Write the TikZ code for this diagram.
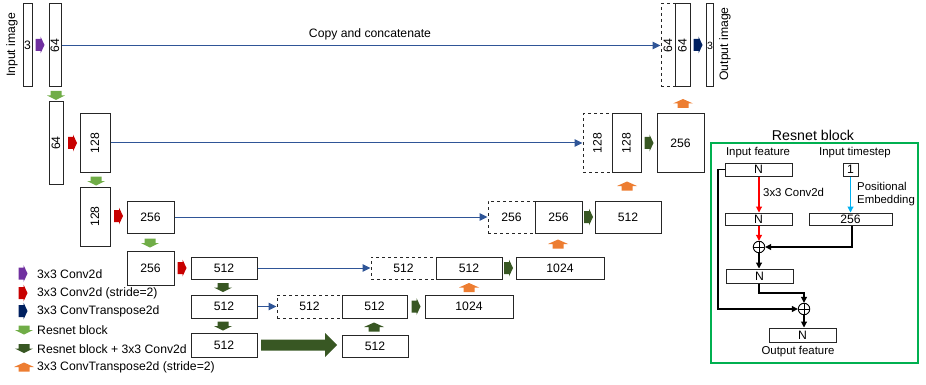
\documentclass[tikz,border=0pt]{standalone}
\usepackage{fontspec}
\setmainfont{Liberation Sans}
\usetikzlibrary{arrows.meta}
\definecolor{cpurple}{RGB}{112,48,160}
\definecolor{cred}{RGB}{200,0,0}
\definecolor{cnavy}{RGB}{0,32,96}
\definecolor{clgreen}{RGB}{112,173,71}
\definecolor{cdgreen}{RGB}{56,87,35}
\definecolor{corange}{RGB}{237,125,49}
\definecolor{cblue}{RGB}{47,85,151}
\definecolor{cframe}{RGB}{0,176,80}
\definecolor{ccyan}{RGB}{0,176,240}
\definecolor{cbright}{RGB}{255,0,0}
\newcommand\fs{\fontsize{12.2}{13.5}\selectfont}
\newcommand\fsmall{\fontsize{10.5}{11}\selectfont}
\newcommand\fres{\fontsize{11.4}{13.5}\selectfont}
\newcommand\ftitle{\fontsize{14.2}{16}\selectfont}
\begin{document}
\begin{tikzpicture}[x=1pt,y=-1pt,
  box/.style={draw=black!85,line width=1pt,inner sep=0pt,font=\fs},
  dbox/.style={box,dashed},
  lbl/.style={inner sep=0pt,font=\fs},
  rlbl/.style={inner sep=0pt,font=\fres},
  skip/.style={cblue,line width=1pt,-{Triangle[length=8pt,width=7.5pt]}},
  rtip/.style={line width=1.1pt,-{Triangle[length=6pt,width=6pt]}},
  oplus/.style={circle,draw,line width=0.9pt,minimum size=11.5pt,inner sep=0pt,
    path picture={\draw[line width=0.9pt] (path picture bounding box.north) -- (path picture bounding box.south)
      (path picture bounding box.west) -- (path picture bounding box.east);}},
  rarr/.pic={\fill (-4.5,-6) -- (0.5,-6) -- (0.5,-8.5) -- (4.5,0) -- (0.5,8.5) -- (0.5,6) -- (-4.5,6) -- cycle;},
  darr/.pic={\fill (-5.5,-4.5) -- (5.5,-4.5) -- (5.5,0) -- (9,0) -- (0,4.5) -- (-9,0) -- (-5.5,0) -- cycle;},
  uarr/.pic={\fill (-5.5,4.5) -- (5.5,4.5) -- (5.5,0) -- (10,0) -- (0,-4.5) -- (-10,0) -- (-5.5,0) -- cycle;}
]
\useasboundingbox (0,0) rectangle (926,385);

% ---------- encoder ----------
\node[box,minimum width=9pt,minimum height=83pt] (in3) at (27.5,45.5) {3};
\node[box,minimum width=12pt,minimum height=83pt] (e64a) at (55,45.5) {\rotatebox{90}{64}};
\node[box,minimum width=14pt,minimum height=82pt] (e64b) at (56,143) {\rotatebox{90}{64}};
\node[box,minimum width=30pt,minimum height=58pt] (e128a) at (95,143) {\rotatebox{90}{128}};
\node[box,minimum width=30pt,minimum height=59pt] (e128b) at (95,216.5) {\rotatebox{90}{128}};
\node[box,minimum width=47pt,minimum height=32pt] (e256a) at (150.5,217) {256};
\node[box,minimum width=47pt,minimum height=34pt] (e256b) at (150.5,268) {256};
\node[box,minimum width=66pt,minimum height=22pt] (e512a) at (224,268) {512};
\node[box,minimum width=66pt,minimum height=23pt] (e512b) at (224,306.5) {512};
\node[box,minimum width=66pt,minimum height=24pt] (e512c) at (224,345) {512};

% ---------- decoder ----------
\node[dbox,minimum width=14pt,minimum height=83pt] (d64) at (668,45.5) {\rotatebox{90}{64}};
\node[box,minimum width=15pt,minimum height=83pt] (u64) at (682.5,45.5) {\rotatebox{90}{64}};
\node[box,minimum width=7pt,minimum height=83pt] (out3) at (710,45.5) {\fsmall 3};
\node[dbox,minimum width=29pt,minimum height=58pt] (d128) at (597.5,143) {\rotatebox{90}{128}};
\node[box,minimum width=29pt,minimum height=58pt] (u128) at (626.5,143) {\rotatebox{90}{128}};
\node[box,minimum width=47pt,minimum height=58pt] (u256a) at (680.5,143) {256};
\node[dbox,minimum width=47pt,minimum height=32pt] (d256) at (511.5,217) {256};
\node[box,minimum width=47pt,minimum height=32pt] (u256b) at (558.5,217) {256};
\node[box,minimum width=66pt,minimum height=32pt] (u512a) at (628,217) {512};
\node[dbox,minimum width=65pt,minimum height=22pt] (d512a) at (403.5,268) {512};
\node[box,minimum width=66pt,minimum height=22pt] (u512b) at (469,268) {512};
\node[box,minimum width=88pt,minimum height=22pt] (u1024a) at (560,268) {1024};
\node[dbox,minimum width=65pt,minimum height=23pt] (d512b) at (309.5,306.5) {512};
\node[box,minimum width=65pt,minimum height=23pt] (u512c) at (374.5,306.5) {512};
\node[box,minimum width=88pt,minimum height=23pt] (u1024b) at (469,306.5) {1024};
\node[box,minimum width=66pt,minimum height=22pt] (b512) at (375,346) {512};

% ---------- labels ----------
\node[lbl,rotate=90] (linput) at (12,45) {Input image};
\node[lbl,rotate=90] (loutput) at (725,44) {Output image};
\node[lbl] (lcopy) at (370,34) {Copy and concatenate};

% ---------- skip connections ----------
\draw[skip] (e64a.east) -- (d64.west);
\draw[skip] (e128a.east) -- (d128.west);
\draw[skip] (e256a.east) -- (d256.west);
\draw[skip] (e512a.east) -- (d512a.west);
\draw[skip] (e512b.east) -- (d512b.west);

% ---------- block arrows ----------
\pic[fill=cpurple] (a1) at (40,45) {rarr};
\pic[fill=cred] (a2) at (72.5,143) {rarr};
\pic[fill=cred] (a3) at (118.5,216) {rarr};
\pic[fill=cred] (a4) at (182,268) {rarr};
\pic[fill=cdgreen] (a5) at (508.5,268) {rarr};
\pic[fill=cdgreen] (a6) at (416,306.5) {rarr};
\pic[fill=cdgreen] (a7) at (588.5,217) {rarr};
\pic[fill=cdgreen] (a8) at (649,143) {rarr};
\pic[fill=cnavy] (a9) at (698,45) {rarr};
\pic[fill=clgreen] (g1) at (56,95.5) {darr};
\pic[fill=clgreen] (g2) at (96,181) {darr};
\pic[fill=clgreen] (g3) at (150,243) {darr};
\pic[fill=cdgreen] (g4) at (223,287.5) {darr};
\pic[fill=cdgreen] (g5) at (223,326) {darr};
\pic[fill=cdgreen] (u1) at (374,327) {uarr};
\pic[fill=corange] (o1) at (469,287.5) {uarr};
\pic[fill=corange] (o2) at (558,244) {uarr};
\pic[fill=corange] (o3) at (627,186) {uarr};
\pic[fill=corange] (o4) at (683,103.5) {uarr};
\fill[cdgreen] (261,339.5) -- (325,339.5) -- (325,333) -- (337,345) -- (325,357) -- (325,350.5) -- (261,350.5) -- cycle;

% ---------- legend ----------
\pic[fill=cpurple] (la1) at (23,273.5) {rarr};
\pic[fill=cred] (la2) at (23,293) {rarr};
\pic[fill=cnavy] (la3) at (23,311) {rarr};
\pic[fill=clgreen] (la4) at (24,330) {darr};
\pic[fill=cdgreen] (la5) at (24,348.5) {darr};
\pic[fill=corange] (la6) at (24,367) {uarr};
\node[lbl,anchor=west] (t1) at (37,274) {3x3 Conv2d};
\node[lbl,anchor=west] (t2) at (37,293) {3x3 Conv2d (stride=2)};
\node[lbl,anchor=west] (t3) at (37,311) {3x3 ConvTranspose2d};
\node[lbl,anchor=west] (t4) at (37,330) {Resnet block};
\node[lbl,anchor=west] (t5) at (37,349) {Resnet block + 3x3 Conv2d};
\node[lbl,anchor=west] (t6) at (37,367) {3x3 ConvTranspose2d (stride=2)};

% ---------- Resnet block ----------
\node[inner sep=0pt,font=\ftitle] (rtitle) at (813,135) {Resnet block};
\draw[cframe,line width=2pt] (711,143) rectangle (918,363);
\node[rlbl] (lif) at (758,153) {Input feature};
\node[rlbl] (lit) at (855,153) {Input timestep};
\node[box,minimum width=67pt,minimum height=13pt] (n1) at (758.5,169.5) {N};
\node[box,minimum width=15pt,minimum height=13pt] (one) at (850.5,169.5) {1};
\node[box,minimum width=67pt,minimum height=12pt] (n2) at (758.5,219) {N};
\node[box,minimum width=83pt,minimum height=12pt] (emb) at (850.5,219) {256};
\node[oplus] (p1) at (759,247) {};
\node[box,minimum width=67pt,minimum height=14pt] (n3) at (759.5,276) {N};
\node[oplus] (p2) at (804,309) {};
\node[box,minimum width=67pt,minimum height=14pt] (n4) at (802.5,335) {N};
\node[rlbl] (lof) at (798,352) {Output feature};
\node[rlbl,anchor=west] (lconv) at (763,192) {3x3 Conv2d};
\node[rlbl,anchor=west,align=left] (lpos) at (857,194) {Positional\\Embedding};

\draw[rtip,cbright] (n1.south -| p1) -- (n2.north -| p1);
\draw[rtip,ccyan] (one.south) -- (one.south |- emb.north);
\draw[rtip,cbright] (n2.south -| p1) -- (p1.north);
\draw[rtip] (emb.south -| 852,0) -- (852,247) -- (p1.east);
\draw[rtip] (p1.south) -- (n3.north -| p1);
\draw[rtip] (n3.south -| p1) -- (759,293) -- (804,293) -- (p2.north);
\draw[rtip] (n1.west) -- (718,169.5) -- (718,309) -- (p2.west);
\draw[rtip] (p2.south) -- (n4.north -| p2);
\end{tikzpicture}
\end{document}
